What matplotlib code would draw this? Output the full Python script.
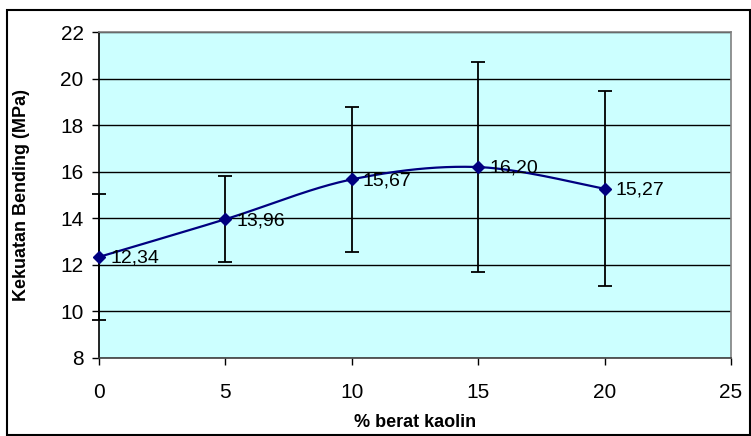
import numpy as np
import matplotlib
matplotlib.use('Agg')
import matplotlib.pyplot as plt
from matplotlib.patches import Rectangle

# Data
kaolin = [0, 5, 10, 15, 20]
strength = [12.34, 13.96, 15.67, 16.20, 15.27]
err = [2.70, 1.85, 3.13, 4.52, 4.18]
labels = ["12,34", "13,96", "15,67", "16,20", "15,27"]

plt.rcParams['font.family'] = ['Liberation Sans', 'DejaVu Sans']


def smooth_curve(x, y, n=40):
    # Excel-style smoothed line: Bezier segments with Catmull-Rom control points
    x = np.asarray(x, float)
    y = np.asarray(y, float)
    pts = np.column_stack([x, y])
    out = []
    t = np.linspace(0, 1, n)
    for i in range(len(pts) - 1):
        p0 = pts[i - 1] if i > 0 else pts[i]
        p1 = pts[i]
        p2 = pts[i + 1]
        p3 = pts[i + 2] if i + 2 < len(pts) else pts[i + 1]
        c1 = p1 + (p2 - p0) / 6
        c2 = p2 - (p3 - p1) / 6
        seg = ((1 - t) ** 3)[:, None] * p1 + (3 * (1 - t) ** 2 * t)[:, None] * c1 \
            + (3 * (1 - t) * t ** 2)[:, None] * c2 + (t ** 3)[:, None] * p2
        out.append(seg)
    out = np.vstack(out)
    return out[:, 0], out[:, 1]


fig = plt.figure(figsize=(7.51, 4.36), dpi=100)
ax = fig.add_axes([0.1318, 0.1789, 0.8416, 0.7477])
ax.set_facecolor('#CCFFFF')

# horizontal gridlines
ax.set_yticks(np.arange(8, 23, 2))
ax.yaxis.grid(True, color='black', linewidth=1.0)
ax.set_axisbelow(True)

xs, ys = smooth_curve(kaolin, strength)
ax.plot(xs, ys, color='#000080', linewidth=1.6, zorder=3)
ax.errorbar(kaolin, strength, yerr=err, fmt='none', ecolor='black',
            elinewidth=1.3, capsize=5, capthick=1.3, zorder=4, clip_on=False)
ax.plot(kaolin, strength, linestyle='none', marker='D', markersize=6.5,
        color='#000080', zorder=5, clip_on=False)

for x, y, lab in zip(kaolin, strength, labels):
    ax.annotate(lab, (x, y), xytext=(8, -1), textcoords='offset points',
                ha='left', va='center', fontsize=14, zorder=6)

ax.set_xlim(0, 25)
ax.set_ylim(8, 22)
ax.set_xticks(np.arange(0, 26, 5))

for side in ['top', 'right']:
    ax.spines[side].set_color('#808080')
ax.spines['left'].set_color('black')
ax.spines['bottom'].set_color('#404040')
for s in ax.spines.values():
    s.set_linewidth(1.2)

ax.tick_params(axis='both', labelsize=15, direction='out', length=5,
               width=1.0, pad=6)
ax.tick_params(axis='x', pad=13)

ax.set_xlabel('% berat kaolin', fontsize=13, fontweight='bold', labelpad=9)
ax.set_ylabel('Kekuatan Bending (MPa)', fontsize=13, fontweight='bold',
              labelpad=22)

# chart border
fig.patches.append(Rectangle((7 / 751, 1 / 436), 743 / 751, 425 / 436,
                             transform=fig.transFigure, fill=False,
                             edgecolor='black', linewidth=1.5))

fig.savefig('out.png', dpi=100)
